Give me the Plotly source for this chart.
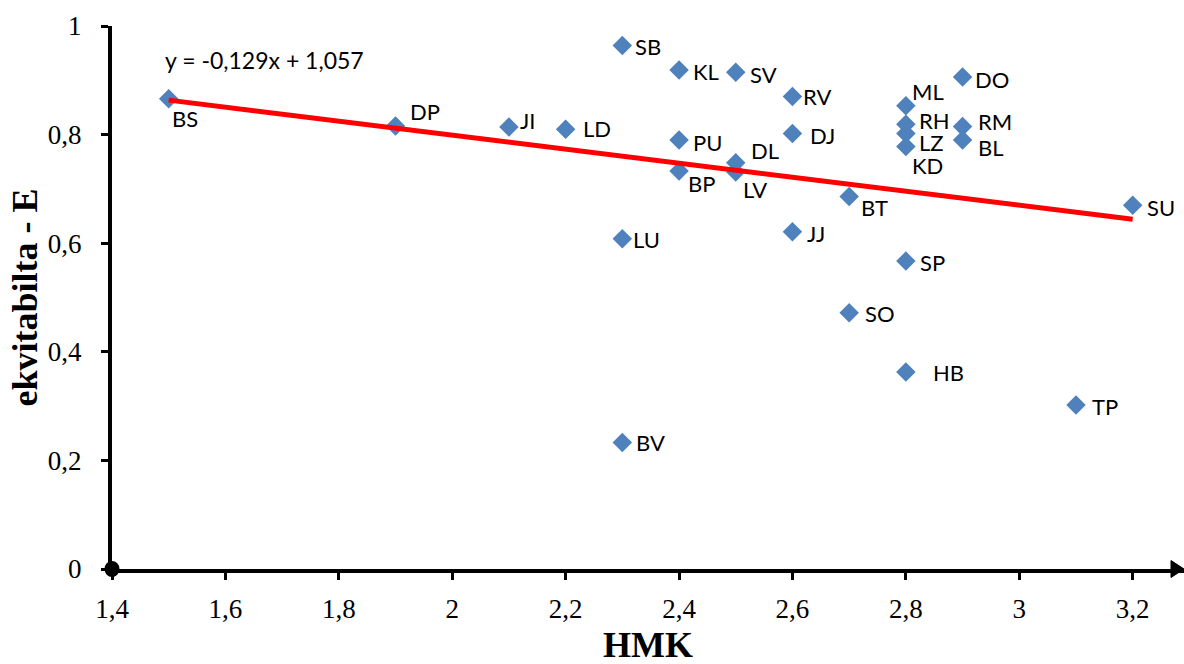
import plotly.graph_objects as go

# ---- data ----
labels = ["BS", "DP", "JI", "LD", "SB", "LU", "BV", "KL", "PU", "BP",
          "SV", "DL", "LV", "RV", "DJ", "JJ", "BT", "SO", "ML", "RH",
          "LZ", "KD", "SP", "HB", "DO", "RM", "BL", "TP", "SU"]
hmk = [1.5, 1.9, 2.1, 2.2, 2.3, 2.3, 2.3, 2.4, 2.4, 2.4,
       2.5, 2.5, 2.5, 2.6, 2.6, 2.6, 2.7, 2.7, 2.8, 2.8,
       2.8, 2.8, 2.8, 2.8, 2.9, 2.9, 2.9, 3.1, 3.2]
ekv = [0.866, 0.816, 0.814, 0.810, 0.964, 0.608, 0.233, 0.919, 0.790, 0.733,
       0.915, 0.748, 0.731, 0.870, 0.802, 0.621, 0.686, 0.472, 0.853, 0.819,
       0.802, 0.778, 0.567, 0.363, 0.906, 0.815, 0.790, 0.302, 0.670]

slope = -0.129
intercept = 1.057
equation_text = "y = -0,129x + 1,057"

x_tick_vals = [1.4, 1.6, 1.8, 2.0, 2.2, 2.4, 2.6, 2.8, 3.0, 3.2]
x_tick_text = ["1,4", "1,6", "1,8", "2", "2,2", "2,4", "2,6", "2,8", "3", "3,2"]
y_tick_vals = [0, 0.2, 0.4, 0.6, 0.8, 1.0]
y_tick_text = ["0", "0,2", "0,4", "0,6", "0,8", "1"]

x_title = "HMK"
y_title = "ekvitabilta - E"

# ---- label placement (pixel offsets of text left edge / vertical centre from marker) ----
label_offsets = {
    "BS": (1, 20), "DP": (12, -14), "JI": (9, -7), "LD": (15, -1),
    "SB": (11, 1), "LU": (9, 1), "BV": (12, 0), "KL": (12, 2),
    "PU": (12, 2), "BP": (7, 13), "SV": (12, 2), "DL": (13, -12),
    "LV": (5, 17), "RV": (9, 0), "DJ": (16, 2), "JJ": (13, 2),
    "BT": (10, 11), "SO": (14, 1), "ML": (4, -14), "RH": (11, -4),
    "LZ": (11, 9), "KD": (4, 19), "SP": (12, 1), "HB": (25, 1),
    "DO": (10, 2), "RM": (13, -5), "BL": (13, 7), "TP": (14, 1),
    "SU": (12, 2),
}

X_MIN, X_MAX = 1.4, 3.2905
label_font = dict(family="Lato, Carlito, Calibri, sans-serif", size=22, color="black")
eq_font = dict(family="Lato, Carlito, Calibri, sans-serif", size=23, color="black")
tick_font = dict(family="Liberation Serif, Times New Roman, serif", size=27, color="black")
title_font = dict(family="Liberation Serif, Times New Roman, serif", size=36, color="black")

fig = go.Figure()

fig.add_trace(go.Scatter(
    x=hmk, y=ekv, mode="markers",
    marker=dict(symbol="diamond", size=15, color="#4F81BD", line=dict(width=0)),
    showlegend=False, hoverinfo="x+y", cliponaxis=False,
))

trend_x = [min(hmk), max(hmk)]
trend_y = [slope * v + intercept for v in trend_x]
fig.add_trace(go.Scatter(
    x=trend_x, y=trend_y, mode="lines",
    line=dict(color="#FF0000", width=5),
    showlegend=False, hoverinfo="skip",
))

annotations = []
for lab, xv, yv in zip(labels, hmk, ekv):
    dx, dy = label_offsets[lab]
    annotations.append(dict(
        x=xv, y=yv, xref="x", yref="y", text=lab, showarrow=False,
        xanchor="left", yanchor="middle", xshift=dx, yshift=-dy,
        font=label_font,
    ))

annotations.append(dict(
    x=1.49, y=0.937, xref="x", yref="y", text=equation_text, showarrow=False,
    xanchor="left", yanchor="middle", font=eq_font,
))

annotations.append(dict(
    x=0.5, y=0, xref="paper", yref="paper", text="<b>" + x_title + "</b>",
    showarrow=False, xanchor="center", yanchor="middle", yshift=-76,
    font=title_font,
))
annotations.append(dict(
    x=0, y=0.5, xref="paper", yref="paper", text="<b>" + y_title + "</b>",
    showarrow=False, xanchor="center", yanchor="middle", xshift=-88,
    textangle=-90, font=title_font,
))

shapes = [
    # arrow head at the end of x axis
    dict(type="path", xref="paper", yref="paper", xsizemode="pixel", ysizemode="pixel",
         xanchor=1, yanchor=0, path="M -13,-8.5 L 0,0 L -13,8.5 Z",
         fillcolor="black", line=dict(color="black", width=1), layer="above"),
    # dot at origin
    dict(type="circle", xref="paper", yref="paper", xsizemode="pixel", ysizemode="pixel",
         xanchor=0, yanchor=0, x0=-7.5, x1=7.5, y0=-8, y1=8,
         fillcolor="black", line=dict(color="black", width=0), layer="above"),
]

fig.update_layout(
    width=1184, height=664,
    margin=dict(l=112, r=0, t=26, b=95),
    paper_bgcolor="white", plot_bgcolor="white",
    annotations=annotations, shapes=shapes,
    showlegend=False,
)
fig.update_xaxes(
    range=[X_MIN, X_MAX], tickvals=x_tick_vals, ticktext=x_tick_text,
    showgrid=False, zeroline=False, showline=True, linecolor="black", linewidth=4,
    ticks="outside", ticklen=7, tickwidth=3, tickcolor="black",
    tickfont=tick_font, ticklabelstandoff=6,
)
fig.update_yaxes(
    range=[0, 1], tickvals=y_tick_vals, ticktext=y_tick_text,
    showgrid=False, zeroline=False, showline=True, linecolor="black", linewidth=4,
    ticks="outside", ticklen=7, tickwidth=3, tickcolor="black",
    tickfont=tick_font, ticklabelstandoff=14,
)

fig.write_html(
    "out.html",
    config={"displayModeBar": False},
    post_script="document.body.style.margin='0';document.body.style.overflow='hidden';",
)
